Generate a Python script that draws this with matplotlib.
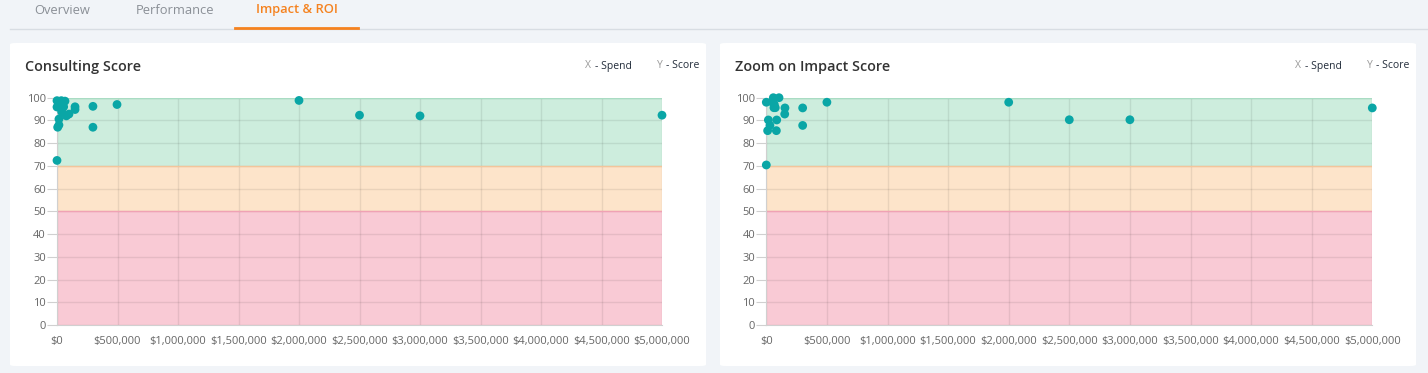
import numpy as np
import matplotlib.pyplot as plt
from matplotlib.patches import FancyBboxPatch
from matplotlib.ticker import FuncFormatter

plt.rcParams['font.family'] = ['Open Sans', 'DejaVu Sans']

W, H = 1428, 373

tabs = ['Overview', 'Performance', 'Impact & ROI']
titles = ['Consulting Score', 'Zoom on Impact Score']

# spend ($) and score for each chart
consult_spend = [0, 36000, 66000, 0, 44000, 55000, 39000, 77000, 99000, 149000, 149000,
                 16000, 16000, 5500, 297000, 297000, 496000, 0,
                 2000000, 2500000, 3000000, 5000000]
consult_score = [98.7, 98.7, 98.5, 95.9, 97.2, 96.0, 93.8, 92.0, 92.8, 96.0, 94.8,
                 90.6, 88.0, 87.0, 96.2, 87.0, 97.0, 72.4,
                 98.8, 92.3, 92.0, 92.3]

zoom_spend = [0, 58000, 105000, 50000, 63000, 74000, 66000, 154000, 152000, 300000, 300000,
              500000, 17000, 86000, 30000, 11000, 83000, 0,
              2000000, 2500000, 3000000, 5000000]
zoom_score = [98.0, 100, 100, 98.0, 95.6, 95.6, 97.0, 95.5, 92.8, 95.5, 87.8,
              98.0, 90.2, 90.2, 87.8, 85.5, 85.5, 70.4,
              98.0, 90.3, 90.3, 95.5]

bands = [(70, 100, '#cdeddd', '#a9dcc3'), (50, 70, '#fde4ca', '#f3c59b'), (0, 50, '#f9cad5', '#f0a2b4')]
x_ticks = np.arange(0, 5000001, 500000)
y_ticks = np.arange(0, 101, 10)


def px(x0, y0, w, h):
    return [x0 / W, 1 - (y0 + h) / H, w / W, h / H]


fig = plt.figure(figsize=(W / 100, H / 100), dpi=100)
fig.patch.set_facecolor('#f1f4f8')

# tab bar
tab_x = [62, 175, 297]
for i, t in enumerate(tabs):
    col = '#f5821f' if i == 2 else '#8a8f96'
    fig.text(tab_x[i] / W, 1 - 10 / H, t, ha='center', va='center', fontsize=9.3, color=col,
             fontweight='semibold' if i == 2 else 'normal')
fig.add_artist(plt.Line2D([10 / W, 1], [1 - 28.5 / H] * 2, color='#d8dde3', lw=1))
fig.add_artist(plt.Line2D([235 / W, 358 / W], [1 - 27.5 / H] * 2, color='#f5821f', lw=2))

cards = [(10, 43, 696, 323), (720, 43, 696, 323)]
plots = [(57, 97.7, 605, 227.3), (766.3, 97.7, 606, 227.3)]
data = [(consult_spend, consult_score), (zoom_spend, zoom_score)]

for k in range(2):
    cx, cy, cw, ch = cards[k]
    fig.add_artist(FancyBboxPatch((cx / W, 1 - (cy + ch) / H), cw / W, ch / H,
                                  boxstyle='round,pad=0,rounding_size=0.004',
                                  transform=fig.transFigure, facecolor='white', edgecolor='none', zorder=0))
    fig.text((cx + 15) / W, 1 - 67 / H, titles[k], ha='left', va='center', fontsize=10.4,
             fontweight='semibold', color='#333333')
    # legend-like labels
    lx = cx + 575
    fig.text(lx / W, 1 - 66 / H, 'X', ha='left', va='center', fontsize=7.5, color='#9a9a9a')
    fig.text((lx + 10) / W, 1 - 66 / H, '- Spend', ha='left', va='center', fontsize=7.5, color='#222c3a')
    fig.text((lx + 72) / W, 1 - 66 / H, 'Y', ha='left', va='center', fontsize=7.5, color='#9a9a9a')
    fig.text((lx + 81) / W, 1 - 66 / H, '- Score', ha='left', va='center', fontsize=7.5, color='#222c3a')

    ax = fig.add_axes(px(*plots[k]))
    ax.set_facecolor('none')
    for lo, hi, fc, ec in bands:
        ax.axhspan(lo, hi, facecolor=fc, edgecolor='none', zorder=0)
        ax.axhline(hi, color=ec, lw=1, zorder=1)
    ax.set_xlim(0, 5000000)
    ax.set_ylim(0, 100)
    ax.set_xticks(x_ticks)
    ax.set_yticks(y_ticks)
    ax.xaxis.set_major_formatter(FuncFormatter(lambda v, p: '${:,.0f}'.format(v)))
    ax.grid(True, color='#000000', alpha=0.08, lw=1, zorder=1)
    ax.set_axisbelow(True)
    for s in ['top', 'right']:
        ax.spines[s].set_visible(False)
    for s in ['left', 'bottom']:
        ax.spines[s].set_color('#d0d0d0')
    ax.tick_params(axis='y', length=7, color='#d0d0d0', labelsize=8, labelcolor='#666666', pad=1)
    ax.tick_params(axis='x', length=0, labelsize=8, labelcolor='#666666', pad=8)
    ax.scatter(data[k][0], data[k][1], s=40, color='#0aa6a6', edgecolor='none', zorder=5, clip_on=False)

fig.savefig('out.png', dpi=100, facecolor=fig.get_facecolor())
